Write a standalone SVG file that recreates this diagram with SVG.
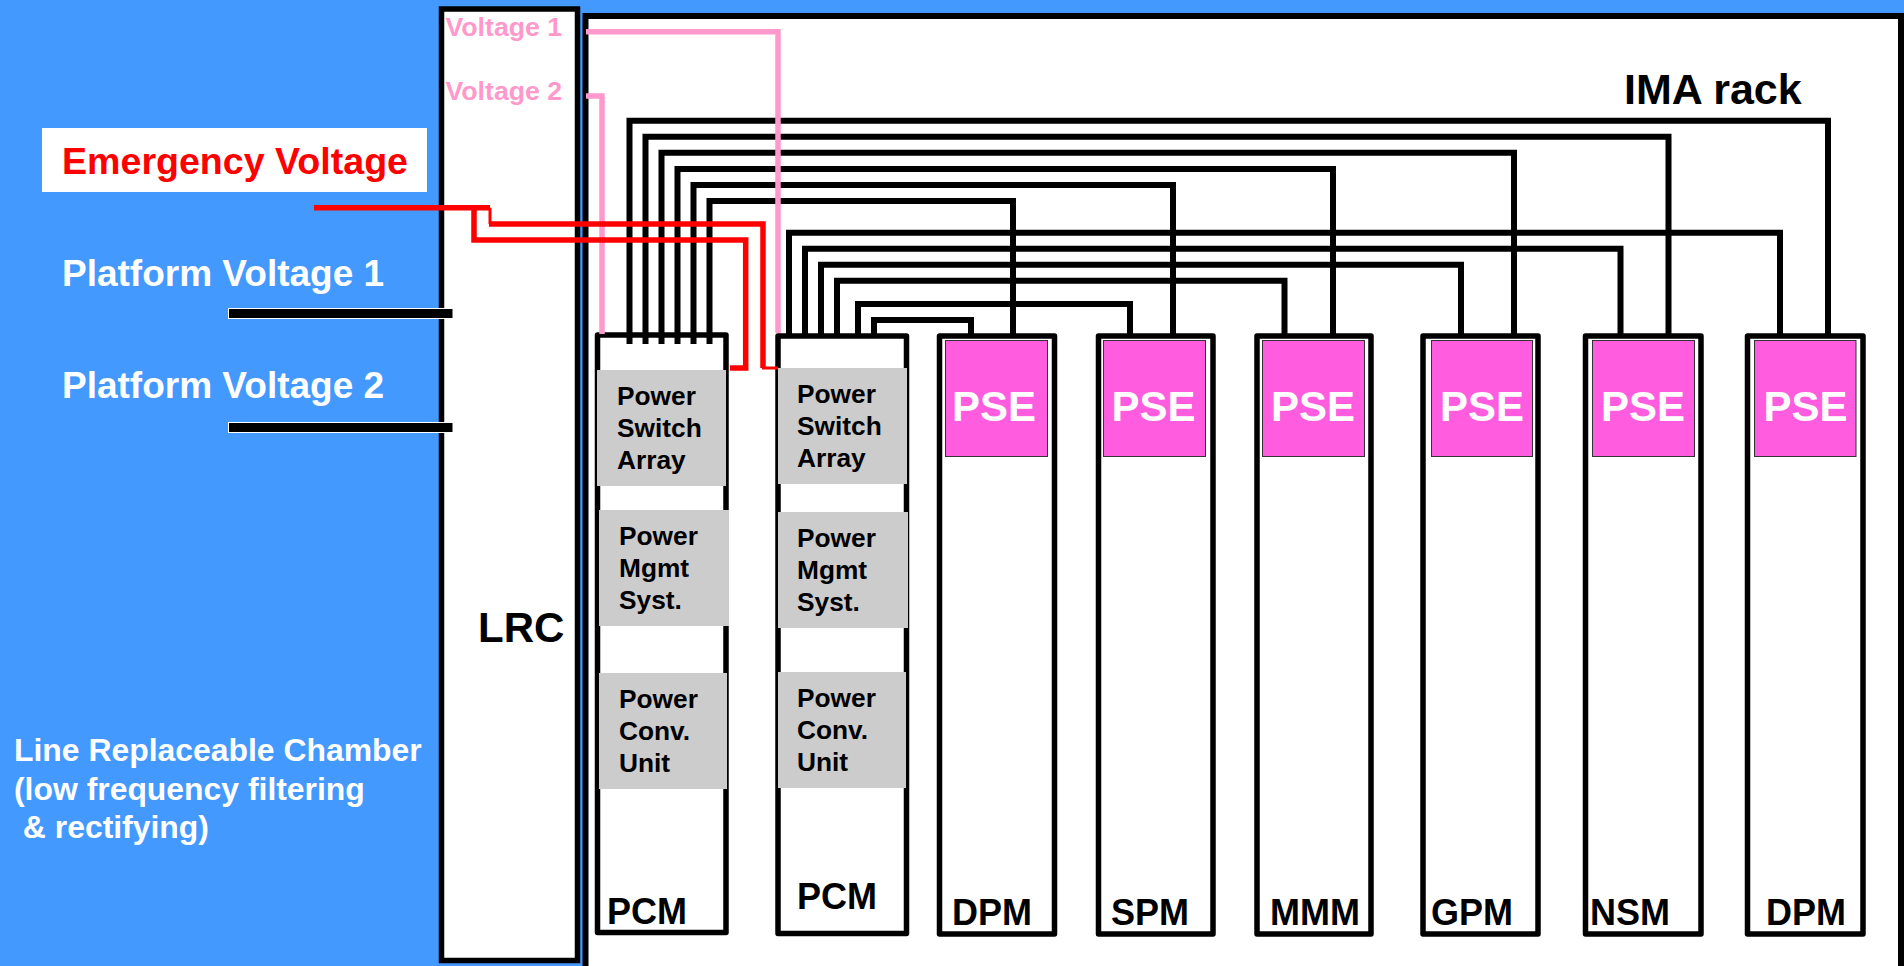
<svg xmlns="http://www.w3.org/2000/svg" width="1904" height="966" viewBox="0 0 1904 966">
<style>
text{font-family:"Liberation Sans",Arial,sans-serif;font-weight:bold}
.box{fill:#fff;stroke:#000;stroke-width:5.5;stroke-linejoin:round}
.gray{fill:#ccc}
.pse{fill:#ff5ce0;stroke:#333;stroke-width:1}
.pt{font-size:42px;fill:#fff}
.gt{font-size:26.3px;fill:#000}
.lb{font-size:36px;fill:#000}
.wt{font-size:37px;fill:#fff}
.pk{font-size:26.7px;fill:#ff99cc}
.bus{fill:none;stroke:#000;stroke-width:6}
.pl{fill:none;stroke:#ff99cc;stroke-width:5.5}
.rd{fill:none;stroke:#f00;stroke-width:5.5}
.rt{fill:none;stroke:#f00;stroke-width:3}
</style>
<rect width="1904" height="966" fill="#4499ff"/>
<g id="emergency-label">
<rect x="42" y="128" width="385" height="64" fill="#fff"/>
<text x="62" y="174" font-size="37.6" fill="#f00">Emergency Voltage</text>
</g>
<g id="platform-voltage-1-label"><text class="wt" x="62" y="286">Platform Voltage 1</text></g>
<g id="platform-voltage-2-label"><text class="wt" x="62" y="398">Platform Voltage 2</text></g>
<g id="lrc-caption">
<text x="14" y="761" font-size="31.9" fill="#fff">Line Replaceable Chamber</text>
<text x="14" y="800" font-size="31.9" fill="#fff">(low frequency filtering</text>
<text x="14" y="838" font-size="31.9" fill="#fff" xml:space="preserve"> &amp; rectifying)</text>
</g>
<g id="lrc">
<rect x="441.5" y="9" width="136" height="951.5" fill="#fff" stroke="#000" stroke-width="5.5"/>
<text x="478" y="642" font-size="42" fill="#000">LRC</text>
<text class="pk" x="445.5" y="36">Voltage 1</text>
<text class="pk" x="445.5" y="100">Voltage 2</text>
</g>
<g id="rack">
<rect x="585.5" y="16" width="1315.5" height="980" fill="#fff" stroke="#000" stroke-width="6"/>
<text x="1624" y="104" font-size="43" fill="#000">IMA rack</text>
</g>
<g id="pcm-1">
<rect class="box" x="597.5" y="335" width="128.5" height="597.5"/>
<rect class="gray" x="597" y="370" width="129" height="116"/>
<text class="gt" x="617" y="405">Power</text><text class="gt" x="617" y="437">Switch</text><text class="gt" x="617" y="469">Array</text>
<rect class="gray" x="599" y="510" width="130" height="116"/>
<text class="gt" x="619" y="545">Power</text><text class="gt" x="619" y="577">Mgmt</text><text class="gt" x="619" y="609">Syst.</text>
<rect class="gray" x="599" y="673" width="128" height="116"/>
<text class="gt" x="619" y="708">Power</text><text class="gt" x="619" y="740">Conv.</text><text class="gt" x="619" y="772">Unit</text>
<text class="lb" x="607" y="924">PCM</text>
</g>
<g id="pcm-2">
<rect class="box" x="778" y="336" width="128.5" height="597.5"/>
<rect class="gray" x="778" y="368" width="129" height="116"/>
<text class="gt" x="797" y="403">Power</text><text class="gt" x="797" y="435">Switch</text><text class="gt" x="797" y="467">Array</text>
<rect class="gray" x="778" y="512" width="130" height="116"/>
<text class="gt" x="797" y="547">Power</text><text class="gt" x="797" y="579">Mgmt</text><text class="gt" x="797" y="611">Syst.</text>
<rect class="gray" x="778" y="672" width="128" height="116"/>
<text class="gt" x="797" y="707">Power</text><text class="gt" x="797" y="739">Conv.</text><text class="gt" x="797" y="771">Unit</text>
<text class="lb" x="797" y="909">PCM</text>
</g>
<g id="dpm-1">
<rect class="box" x="939.5" y="336" width="115" height="598"/>
<rect class="pse" x="945.5" y="340.5" width="102" height="116"/>
<text class="pt" x="952" y="421">PSE</text>
<text class="lb" x="952" y="925">DPM</text>
</g>
<g id="spm">
<rect class="box" x="1098.5" y="336" width="114.5" height="598"/>
<rect class="pse" x="1103.5" y="340.5" width="102" height="116"/>
<text class="pt" x="1111.5" y="421">PSE</text>
<text class="lb" x="1111" y="925">SPM</text>
</g>
<g id="mmm">
<rect class="box" x="1257" y="336" width="114" height="598"/>
<rect class="pse" x="1262.5" y="340.5" width="102" height="116"/>
<text class="pt" x="1271" y="421">PSE</text>
<text class="lb" x="1270" y="925">MMM</text>
</g>
<g id="gpm">
<rect class="box" x="1423" y="336" width="115" height="598"/>
<rect class="pse" x="1431.5" y="340.5" width="101" height="116"/>
<text class="pt" x="1440" y="421">PSE</text>
<text class="lb" x="1431" y="925">GPM</text>
</g>
<g id="nsm">
<rect class="box" x="1585.5" y="336" width="115.5" height="598"/>
<rect class="pse" x="1592.5" y="340.5" width="102" height="116"/>
<text class="pt" x="1601" y="421">PSE</text>
<text class="lb" x="1590" y="925">NSM</text>
</g>
<g id="dpm-2">
<rect class="box" x="1747.5" y="336" width="115.5" height="598"/>
<rect class="pse" x="1754.5" y="340.5" width="101.5" height="116"/>
<text class="pt" x="1763.5" y="421">PSE</text>
<text class="lb" x="1766" y="925">DPM</text>
</g>
<g id="connectors">
<path class="bus" d="M629.5 344V120.7H1828V336"/>
<path class="bus" d="M645.5 344V136.7H1668.5V336"/>
<path class="bus" d="M661.5 344V152.7H1514V336"/>
<path class="bus" d="M677.5 344V169H1333V336"/>
<path class="bus" d="M693.5 344V185H1173V336"/>
<path class="bus" d="M709.5 344V201H1013V336"/>
<path class="bus" d="M789 336V232.7H1780V336"/>
<path class="bus" d="M805 336V248.7H1620.5V336"/>
<path class="bus" d="M821 336V264.7H1461V336"/>
<path class="bus" d="M837 336V280.7H1284.5V336"/>
<path class="bus" d="M858 336V304H1130V336"/>
<path class="bus" d="M874 336V320H971V336"/>
<path class="pl" d="M586 31.7H778V333"/>
<path class="pl" d="M586 96H602V334"/>
<path class="rd" d="M314 207.7H490"/>
<path class="rt" d="M490 207.7V224"/>
<path class="rd" d="M489 224H763V368"/>
<path class="rt" d="M762 368H778"/>
<path class="rd" d="M474 207.7V240H745.7V368H730"/>
<rect x="228.5" y="308.5" width="224.5" height="10" fill="#000" stroke="#fff" stroke-width="1"/>
<rect x="228.5" y="422.5" width="224.5" height="10" fill="#000" stroke="#fff" stroke-width="1"/>
</g>
</svg>
